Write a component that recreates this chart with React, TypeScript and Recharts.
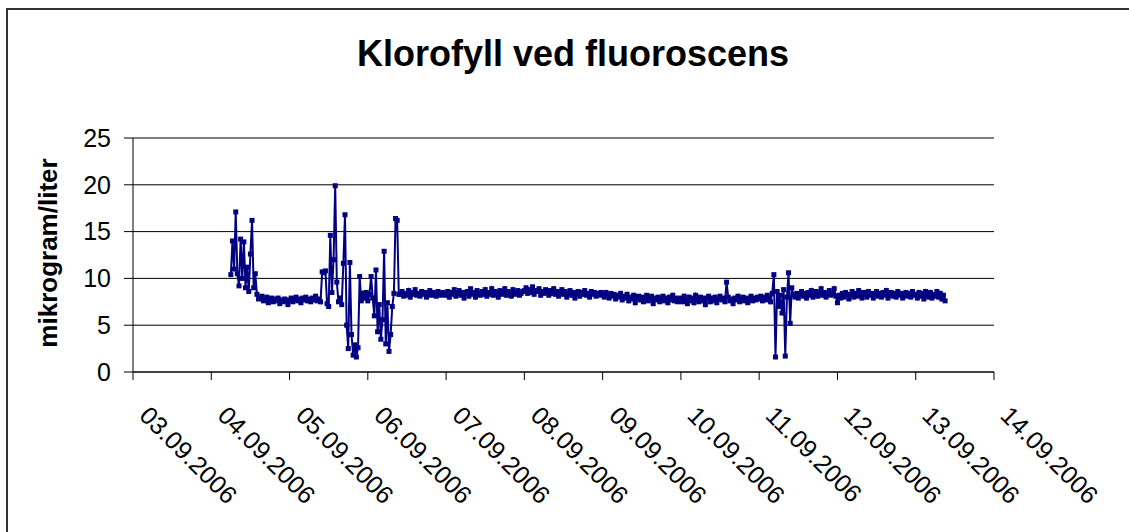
import { LineChart, Line, XAxis, YAxis, CartesianGrid } from "recharts";

const FONT = '"Liberation Sans", Arial, Helvetica, sans-serif';
const NAVY = "#000080";

const tickDays = [3, 4, 5, 6, 7, 8, 9, 10, 11, 12, 13, 14];
const tickLabels = [
  "03.09.2006", "04.09.2006", "05.09.2006", "06.09.2006", "07.09.2006", "08.09.2006",
  "09.09.2006", "10.09.2006", "11.09.2006", "12.09.2006", "13.09.2006", "14.09.2006",
];
const yTicks = [0, 5, 10, 15, 20, 25];

// readings every 30 min; 04.09 starts at 06:00
const day4 = [
  10.4, 14.0, 11.0, 17.1, 10.5, 9.2, 14.2, 10.0, 13.9, 9.0, 11.2, 8.6,
  12.6, 16.2, 9.0, 10.5, 8.3, 7.8, 7.9, 8.1, 7.6, 7.8, 8.0, 7.4,
  7.7, 7.9, 7.5, 7.8, 7.6, 7.9, 7.3, 7.7, 7.5, 7.8, 7.6, 7.2,
];
const day5 = [
  7.7, 7.9, 7.5, 7.8, 8.0, 7.6, 7.8, 7.4, 7.9, 7.7, 8.0, 7.6,
  7.8, 7.5, 7.9, 7.7, 8.1, 7.6, 7.8, 7.5, 10.7, 10.6, 10.8, 7.3,
  7.0, 14.6, 8.5, 12.0, 19.9, 9.6, 7.5, 7.9, 7.2, 11.6, 16.8, 5.0,
  2.5, 11.7, 4.0, 1.8, 2.9, 1.6, 2.6, 10.2, 7.6, 8.4, 7.9, 8.5,
];
const day6 = [
  7.6, 8.3, 10.2, 7.9, 6.0, 10.9, 4.3, 7.2, 3.5, 5.6, 12.9, 3.0,
  7.4, 2.2, 4.0, 7.0, 8.4, 16.4, 16.2, 8.3, 8.3, 8.6, 8.1, 8.4,
  8.2, 8.7, 8.0, 8.5, 8.3, 8.8, 8.2, 8.4, 8.1, 8.6, 8.3, 8.5,
  8.0, 8.4, 8.7, 8.2, 8.5, 8.3, 8.1, 8.6, 8.4, 8.2, 8.5, 8.3,
];
const day7 = [
  8.2, 8.6, 8.0, 8.5, 8.3, 8.8, 8.1, 8.4, 8.7, 8.2, 8.5, 7.9,
  8.4, 8.6, 8.1, 8.9, 8.3, 8.5, 8.0, 8.7, 8.4, 8.2, 8.6, 8.3,
  8.8, 8.1, 8.5, 8.3, 8.9, 8.2, 8.6, 8.4, 8.0, 8.7, 8.3, 8.5,
  8.9, 8.2, 8.6, 8.4, 8.1, 8.8, 8.3, 8.5, 8.7, 8.2, 8.4, 8.6,
];
const day8 = [
  8.7, 9.0, 8.4, 8.8, 8.5, 9.1, 8.3, 8.7, 8.6, 8.9, 8.2, 8.6,
  8.4, 8.8, 8.5, 8.2, 8.7, 8.4, 8.9, 8.3, 8.6, 8.1, 8.5, 8.8,
  8.3, 8.6, 8.0, 8.4, 8.7, 8.2, 8.5, 7.9, 8.4, 8.6, 8.1, 8.5,
  8.3, 8.7, 8.2, 8.4, 8.0, 8.6, 8.3, 8.5, 8.1, 8.4, 8.2, 8.5,
];
const day9 = [
  8.3, 8.0, 8.5, 8.2, 7.9, 8.4, 8.1, 8.3, 7.8, 8.2, 8.0, 8.4,
  7.7, 8.1, 7.9, 8.3, 7.6, 8.0, 7.8, 8.2, 7.4, 7.9, 8.1, 7.7,
  8.0, 7.5, 7.9, 8.2, 7.6, 7.8, 8.1, 7.3, 7.9, 7.7, 8.0, 7.5,
  7.8, 8.1, 7.6, 7.9, 7.4, 8.0, 7.7, 8.2, 7.6, 7.9, 7.5, 7.8,
];
const day10 = [
  7.9, 7.5, 8.1, 7.7, 7.3, 8.0, 7.6, 7.9, 7.4, 8.2, 7.7, 7.5,
  8.0, 7.6, 7.9, 7.2, 7.8, 8.1, 7.5, 7.9, 7.6, 8.0, 7.4, 7.8,
  8.1, 7.7, 7.9, 7.5, 9.6, 8.0, 7.6, 7.8, 7.3, 7.9, 7.7, 8.1,
  7.5, 7.8, 8.0, 7.6, 7.9, 7.4, 7.8, 8.1, 7.6, 7.9, 7.7, 8.0,
];
const day11 = [
  7.8, 8.1, 7.6, 8.0, 7.7, 8.2, 7.9, 7.5, 8.4, 10.4, 1.6, 8.6,
  7.0, 8.2, 6.3, 8.8, 1.7, 8.0, 10.6, 5.2, 9.0, 8.2, 8.0, 8.4,
  7.9, 8.3, 8.6, 8.1, 8.4, 7.9, 8.5, 8.2, 8.7, 8.0, 8.3, 8.6,
  8.1, 8.4, 8.9, 8.2, 8.5, 8.0, 8.3, 8.7, 8.2, 8.4, 8.9, 8.1,
];
const day12 = [
  7.4, 8.2, 7.9, 8.4, 8.0, 8.5, 8.2, 7.8, 8.3, 8.6, 8.0, 8.4,
  8.1, 8.7, 8.2, 7.9, 8.5, 8.3, 8.0, 8.6, 8.2, 8.4, 7.9, 8.3,
  8.6, 8.1, 8.4, 8.0, 8.5, 8.2, 8.7, 7.9, 8.3, 8.5, 8.1, 8.4,
  8.0, 8.6, 8.2, 8.4, 7.9, 8.3, 8.5, 8.1, 8.4, 8.0, 8.6, 8.2,
];
const day13 = [
  8.3, 7.9, 8.5, 8.1, 8.4, 7.8, 8.6, 8.2, 8.0, 8.5,
  7.9, 8.3, 8.1, 8.6, 8.0, 8.4, 7.8, 8.2, 7.6,
];

const days = [day4, day5, day6, day7, day8, day9, day10, day11, day12, day13];
const dayStarts = [4.25, 5, 6, 7, 8, 9, 10, 11, 12, 13];
const STEP = 1 / 48;

const data = days.flatMap((values, d) =>
  values.map((v, i) => ({ t: dayStarts[d] + i * STEP, v }))
);

const DateTick = (props: any) => {
  const { x, y, payload } = props;
  const label = tickLabels[tickDays.indexOf(payload.value)];
  const bx = x + 5;
  const by = y + 35;
  return (
    <text
      x={bx}
      y={by}
      transform={`rotate(45 ${bx} ${by})`}
      fontSize={25}
      fontFamily={FONT}
      fill="#000"
    >
      {label}
    </text>
  );
};

const Marker = (props: any) => {
  const { cx, cy, index } = props;
  if (cx == null || cy == null) return <g key={index} />;
  return <rect key={index} x={cx - 2.5} y={cy - 2.5} width={5} height={5} fill={NAVY} />;
};

export default function App() {
  return (
    <div style={{ position: "absolute", left: 0, top: 0, width: 1129, height: 532, background: "#fff", overflow: "hidden" }}>
      <div
        style={{
          position: "absolute",
          left: 6,
          top: 8,
          right: -10,
          bottom: -10,
          borderLeft: "2px solid #333",
          borderTop: "2px solid #333",
        }}
      />
      <LineChart
        width={1129}
        height={532}
        data={data}
        margin={{ top: 138, right: 135, bottom: 60, left: 73 }}
        style={{ position: "absolute", left: 0, top: 0 }}
      >
        <CartesianGrid vertical={false} stroke="#000" strokeOpacity={1} />
        <XAxis
          type="number"
          dataKey="t"
          domain={[3, 14]}
          ticks={tickDays}
          interval={0}
          height={100}
          tickSize={8}
          axisLine={{ stroke: "#000", strokeWidth: 1 }}
          tickLine={{ stroke: "#000" }}
          tick={<DateTick />}
        />
        <YAxis
          type="number"
          domain={[0, 25]}
          ticks={yTicks}
          width={60}
          tickSize={9}
          tickMargin={13}
          axisLine={{ stroke: "#000", strokeWidth: 1 }}
          tickLine={{ stroke: "#000" }}
          tick={{ fontSize: 25, fill: "#000", fontFamily: FONT }}
        />
        <Line
          type="linear"
          dataKey="v"
          stroke={NAVY}
          strokeWidth={2}
          dot={Marker}
          activeDot={false}
          isAnimationActive={false}
        />
      </LineChart>
      <svg width={1129} height={532} style={{ position: "absolute", left: 0, top: 0, pointerEvents: "none" }}>
        <text x={573} y={66} textAnchor="middle" fontSize={36} fontWeight="bold" fontFamily={FONT} fill="#000">
          Klorofyll ved fluoroscens
        </text>
        <text
          x={57}
          y={253}
          transform="rotate(-90 57 253)"
          textAnchor="middle"
          fontSize={26}
          fontWeight="bold"
          fontFamily={FONT}
          fill="#000"
        >
          mikrogram/liter
        </text>
      </svg>
    </div>
  );
}
